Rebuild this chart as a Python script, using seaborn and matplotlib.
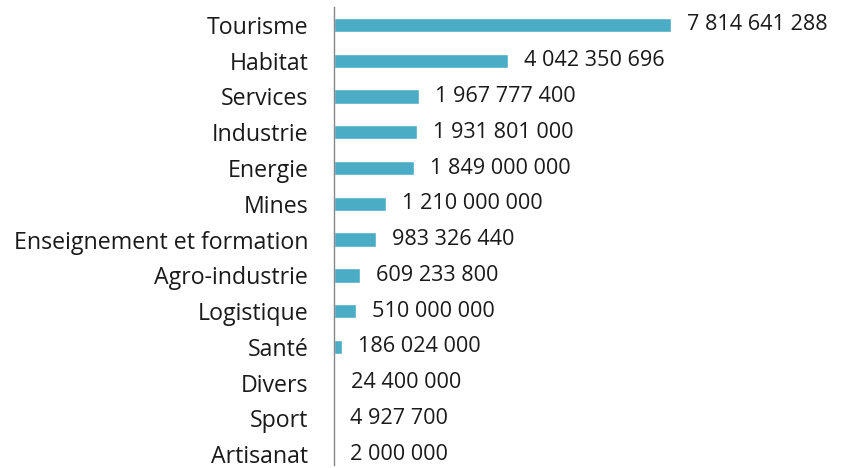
import pandas as pd
import matplotlib
matplotlib.use("Agg")
import matplotlib.pyplot as plt
import seaborn as sns

# Data
secteurs = ["Tourisme", "Habitat", "Services", "Industrie", "Energie", "Mines",
            "Enseignement et formation", "Agro-industrie", "Logistique", "Santé",
            "Divers", "Sport", "Artisanat"]
montants = [7814641288, 4042350696, 1967777400, 1931801000, 1849000000, 1210000000,
            983326440, 609233800, 510000000, 186024000, 24400000, 4927700, 2000000]

df = pd.DataFrame({"Secteur": secteurs, "Montant": montants})

sns.set_theme(style="white")
plt.rcParams["font.family"] = ["Open Sans", "DejaVu Sans"]

fig = plt.figure(figsize=(8.46, 4.68), dpi=100)
ax = fig.add_axes([334 / 846, 3 / 468, 506 / 846, 458 / 468])

sns.barplot(data=df, x="Montant", y="Secteur", color="#4BACC6", width=0.4,
            saturation=1, ax=ax)

ax.set_xlim(0, 1.1734e10)
ax.set_ylim(12.3, -0.5)
ax.set_xlabel("")
ax.set_ylabel("")
ax.set_xticks([])
ax.tick_params(axis="y", length=0, pad=18.5, labelsize=16.7, labelcolor="#1a1a1a")
for side in ["top", "right", "bottom"]:
    ax.spines[side].set_visible(False)
ax.spines["left"].set_color("#868686")
ax.spines["left"].set_linewidth(1)

for i, v in enumerate(montants):
    txt = f"{v:,}".replace(",", " ")
    ax.annotate(txt, xy=(v, i), xytext=(11.5, 0), textcoords="offset points",
                va="center", ha="left", fontsize=15.6, color="#1a1a1a")

fig.savefig("out.png", dpi=100)
